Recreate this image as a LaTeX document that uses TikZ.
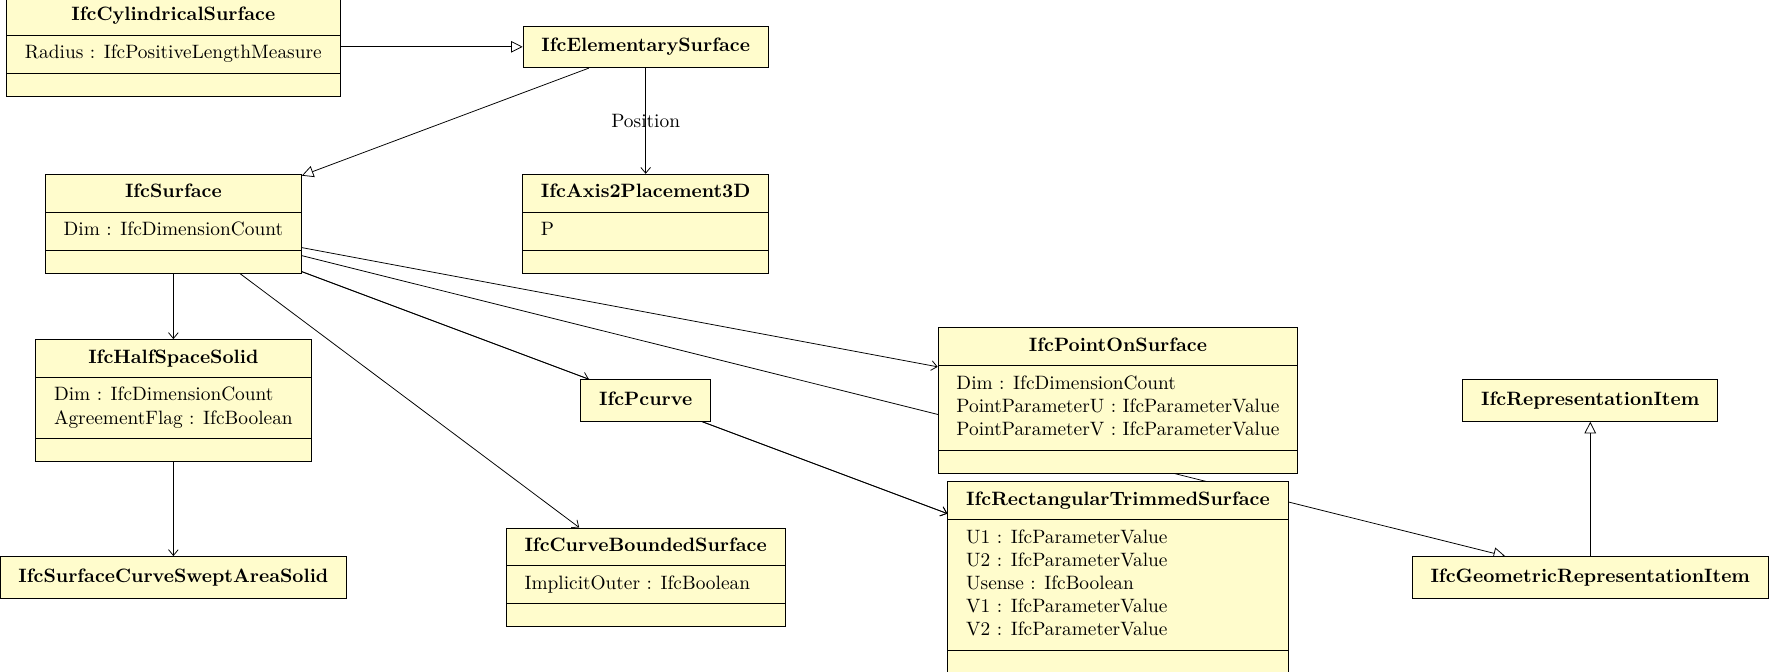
\documentclass[tikz,border=0pt]{standalone}
\usepackage{tikz}
\usetikzlibrary{positioning,arrows.meta,shapes.multipart}
\pgfdeclarelayer{edges}
\pgfsetlayers{edges,main}

\begin{document}
\begin{tikzpicture}[x=244.1pt,y=-91.4pt,
  every node/.style={font=\normalsize},
  umlclass/.style={rectangle split,rectangle split parts=3,draw,fill=yellow!20,
    inner xsep=9.5pt,inner ysep=3.6pt,rectangle split part align={center,left,left},
    rectangle split empty part height=1.4pt,rectangle split empty part depth=0pt},
  umlsimple/.style={draw,fill=yellow!20,inner xsep=9.5pt,inner ysep=0pt,minimum height=21.6pt},
  assoc/.style={-{Straight Barb[length=3pt,width=5pt]}},
  inherit/.style={-{Triangle[open,length=6pt,width=6pt]}}]
\useasboundingbox (-89.6pt,24.2pt) rectangle (825.2pt,-323.1pt);
% classes
\node[umlclass] (CS) at (0,0) {\textbf{IfcCylindricalSurface}\strut
  \nodepart{two}\begin{tabular}{@{}l@{}}Radius : IfcPositiveLengthMeasure\end{tabular}
  \nodepart{three}};
\node[umlsimple] (ES) at (1,0) {\textbf{IfcElementarySurface}\strut};
\node[umlclass] (S) at (0,1) {\textbf{IfcSurface}\strut
  \nodepart{two}\begin{tabular}{@{}l@{}}Dim : IfcDimensionCount\end{tabular}
  \nodepart{three}};
\node[umlclass] (AP) at (1,1) {\textbf{IfcAxis2Placement3D}\strut
  \nodepart{two}\begin{tabular}{@{}l@{}}P\end{tabular}
  \nodepart{three}};
\node[umlclass] (HS) at (0,2) {\textbf{IfcHalfSpaceSolid}\strut
  \nodepart{two}\begin{tabular}{@{}l@{}}Dim : IfcDimensionCount\\AgreementFlag : IfcBoolean\end{tabular}
  \nodepart{three}};
\node[umlsimple] (PC) at (1,2) {\textbf{IfcPcurve}\strut};
\node[umlclass] (PS) at (2,2) {\textbf{IfcPointOnSurface}\strut
  \nodepart{two}\begin{tabular}{@{}l@{}}Dim : IfcDimensionCount\\PointParameterU : IfcParameterValue\\PointParameterV : IfcParameterValue\end{tabular}
  \nodepart{three}};
\node[umlsimple] (RI) at (3,2) {\textbf{IfcRepresentationItem}\strut};
\node[umlsimple] (SW) at (0,3) {\textbf{IfcSurfaceCurveSweptAreaSolid}\strut};
\node[umlclass] (CB) at (1,3) {\textbf{IfcCurveBoundedSurface}\strut
  \nodepart{two}\begin{tabular}{@{}l@{}}ImplicitOuter : IfcBoolean\end{tabular}
  \nodepart{three}};
\node[umlclass] (RT) at (2,3) {\textbf{IfcRectangularTrimmedSurface}\strut
  \nodepart{two}\begin{tabular}{@{}l@{}}U1 : IfcParameterValue\\U2 : IfcParameterValue\\Usense : IfcBoolean\\V1 : IfcParameterValue\\V2 : IfcParameterValue\end{tabular}
  \nodepart{three}};
\node[umlsimple] (GR) at (3,3) {\textbf{IfcGeometricRepresentationItem}\strut};
% relations, kept under the boxes
\begin{pgfonlayer}{edges}
\draw[inherit] (CS) -- (ES);
\draw[inherit] (ES) -- (S);
\draw[assoc] (ES) -- node[midway] {Position} (AP);
\draw[assoc] (S) -- (HS);
\draw[assoc] (HS) -- (SW);
\draw[assoc] (S) -- (CB);
\draw[assoc] (S) -- (PC);
\draw[assoc] (S) -- (RT);
\draw[assoc] (S) -- (PS);
\draw[inherit] (S) -- (GR);
\draw[assoc] (PC) -- (RT);
\draw[inherit] (GR) -- (RI);
\end{pgfonlayer}
\end{tikzpicture}
\end{document}
